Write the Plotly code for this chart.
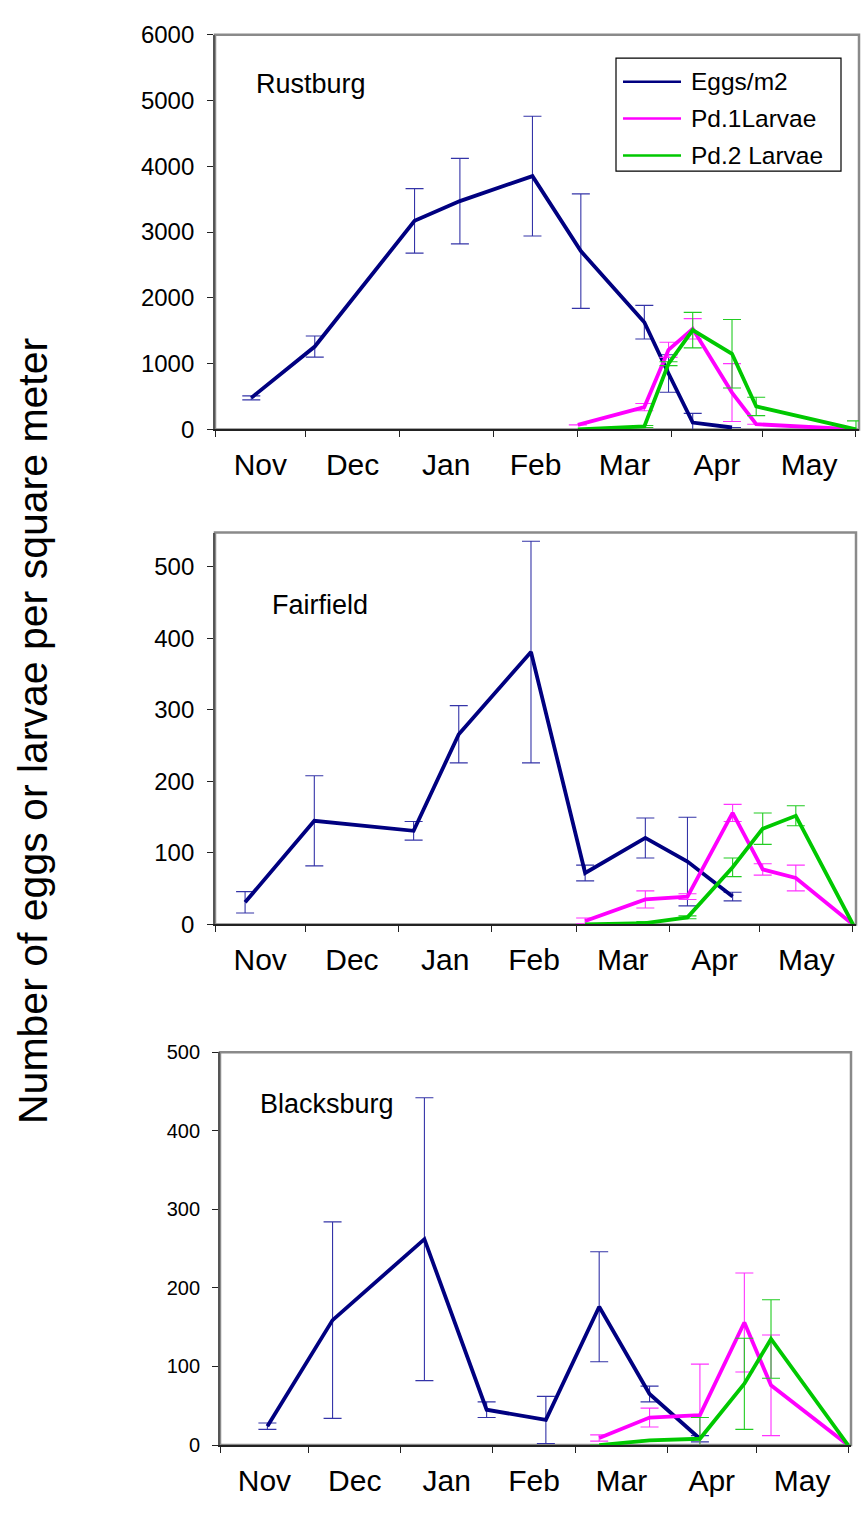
import plotly.graph_objects as go

# ---- Rustburg ----
r_egg_dates = ["2002-11-13", "2002-12-04", "2003-01-06", "2003-01-21", "2003-02-14",
               "2003-03-02", "2003-03-23", "2003-03-31", "2003-04-08", "2003-04-21"]
r_eggs = [480, 1260, 3170, 3470, 3850, 2710, 1630, 850, 105, 30]
r_eggs_err = [30, 160, 490, 650, 910, 870, 255, 285, 140, 0]

r_larva_dates = ["2003-03-01", "2003-03-23", "2003-03-31", "2003-04-08", "2003-04-21",
                 "2003-04-29", "2003-06-01"]
r_pd1 = [70, 340, 1210, 1530, 560, 80, 0]
r_pd1_err = [0, 55, 115, 155, 440, 0, 0]
r_pd2 = [0, 45, 1000, 1510, 1150, 350, 0]
r_pd2_err = [0, 15, 30, 270, 520, 140, 130]

# ---- Fairfield ----
f_egg_dates = ["2002-11-11", "2002-12-04", "2003-01-06", "2003-01-21", "2003-02-14",
               "2003-03-04", "2003-03-24", "2003-04-07", "2003-04-22"]
f_eggs = [31, 145, 131, 266, 381, 72, 121, 88, 39]
f_eggs_err = [15, 63, 13, 40, 155, 11, 28, 62, 6]

f_larva_dates = ["2003-03-04", "2003-03-24", "2003-04-07", "2003-04-22", "2003-05-02",
                 "2003-05-13", "2003-06-01"]
f_pd1 = [5, 35, 39, 156, 77, 65, 0]
f_pd1_err = [4, 12, 4, 12, 8, 18, 0]
f_pd2 = [0, 2, 10, 80, 134, 152, 0]
f_pd2_err = [0, 2, 2, 13, 22, 14, 0]

# ---- Blacksburg ----
b_egg_dates = ["2002-11-17", "2002-12-09", "2003-01-09", "2003-01-30", "2003-02-19",
               "2003-03-09", "2003-03-26", "2003-04-12"]
b_eggs = [24, 159, 262, 45, 32, 176, 65, 8]
b_eggs_err = [4, 125, 180, 10, 30, 70, 10, 4]

b_larva_dates = ["2003-03-09", "2003-03-26", "2003-04-12", "2003-04-27", "2003-05-06",
                 "2003-06-01"]
b_pd1 = [9, 35, 38, 156, 76, 0]
b_pd1_err = [4, 12, 65, 63, 64, 0]
b_pd2 = [0, 6, 8, 78, 135, 0]
b_pd2_err = [0, 0, 27, 58, 50, 0]

sites = ["Rustburg", "Fairfield", "Blacksburg"]
series_names = ["Eggs/m2", "Pd.1Larvae", "Pd.2 Larvae"]
month_range = ["2002-11-01", "2003-06-02"]

W, H = 861, 1516
FONT = "Liberation Sans, Arial, sans-serif"
NAVY, MAGENTA, GREEN = "#000080", "#ff00ff", "#00c800"
ERR_COLORS = ["#3434a8", "#ff33ff", "#22cc22"]

# pixel boxes for each panel: (left, right, top, bottom)
boxes = [(215, 859, 21, 423), (215, 856, 528, 927), (220, 851, 1057, 1457)]
y_ranges = [[0, 6000], [0, 548], [0, 500]]
y_dticks = [1000, 100, 100]
y_font = [24, 24, 20]
label_pos = [(254, 71), (270, 602), (258, 1110)]

panels = [
    (r_egg_dates, r_eggs, r_eggs_err, r_larva_dates, r_pd1, r_pd1_err, r_pd2, r_pd2_err),
    (f_egg_dates, f_eggs, f_eggs_err, f_larva_dates, f_pd1, f_pd1_err, f_pd2, f_pd2_err),
    (b_egg_dates, b_eggs, b_eggs_err, b_larva_dates, b_pd1, b_pd1_err, b_pd2, b_pd2_err),
]

fig = go.Figure()
shapes = []
annotations = []
layout = {}

for i, (ed, ev, ee, ld, p1, p1e, p2, p2e) in enumerate(panels):
    n = "" if i == 0 else str(i + 1)
    xa, ya = "x" + n, "y" + n
    left, right, top, bottom = boxes[i]
    traces = [(ed, ev, ee, NAVY, ERR_COLORS[0], series_names[0]),
              (ld, p1, p1e, MAGENTA, ERR_COLORS[1], series_names[1]),
              (ld, p2, p2e, GREEN, ERR_COLORS[2], series_names[2])]
    for dates, vals, errs, col, ecol, name in traces:
        fig.add_trace(go.Scatter(
            x=dates, y=vals, mode="lines", name=name, showlegend=False,
            line=dict(color=col, width=3.8),
            error_y=dict(type="data", array=errs, visible=True, color=ecol,
                         thickness=1.1, width=9),
            xaxis=xa, yaxis=ya, cliponaxis=False))

    layout["xaxis" + n] = dict(
        domain=[left / W, right / W], anchor=ya, type="date", range=month_range,
        dtick="M1", tick0="2002-11-01", tickformat="%b", ticklabelmode="period",
        ticks="outside", ticklen=6, tickcolor="#222", tickwidth=1.2,
        showline=True, linecolor="#222", linewidth=1.8, showgrid=False, zeroline=False,
        tickfont=dict(family=FONT, size=30, color="black"), ticklabelstandoff=2)
    layout["yaxis" + n] = dict(
        domain=[1 - bottom / H, 1 - top / H], anchor=xa, range=y_ranges[i],
        dtick=y_dticks[i], ticks="outside", ticklen=6, tickcolor="#222", tickwidth=1.2,
        showline=True, linecolor="#555", linewidth=1.8, showgrid=False, zeroline=False,
        tickfont=dict(family=FONT, size=y_font[i], color="black"), ticklabelstandoff=8)

    # grey plot frame
    shapes.append(dict(type="rect", xref=xa + " domain", yref=ya + " domain",
                       x0=0, x1=1, y0=0, y1=1, line=dict(color="#8a8a8a", width=2.5),
                       layer="below"))
    lx, ly = label_pos[i]
    annotations.append(dict(text=sites[i], xref="paper", yref="paper",
                            x=lx / W, y=1 - ly / H, xanchor="left", yanchor="middle",
                            showarrow=False, font=dict(family=FONT, size=27, color="black")))

# legend box drawn in the first panel
leg_l, leg_r, leg_t, leg_b = 616, 841, 45, 160
shapes.append(dict(type="rect", xref="paper", yref="paper",
                   x0=leg_l / W, x1=leg_r / W, y0=1 - leg_b / H, y1=1 - leg_t / H,
                   line=dict(color="black", width=1.2), fillcolor="white", layer="above"))
for k, (col, name) in enumerate(zip([NAVY, MAGENTA, GREEN], series_names)):
    yy = 1 - (69 + 37.5 * k) / H
    shapes.append(dict(type="line", xref="paper", yref="paper",
                       x0=623 / W, x1=681 / W, y0=yy, y1=yy,
                       line=dict(color=col, width=2.5), layer="above"))
    annotations.append(dict(text=name, xref="paper", yref="paper", x=689 / W, y=yy,
                            xanchor="left", yanchor="middle", showarrow=False,
                            font=dict(family=FONT, size=24.5, color="black")))

annotations.append(dict(text="Number of eggs or larvae per square meter",
                        xref="paper", yref="paper", x=33 / W, y=1 - 730 / H,
                        xanchor="center", yanchor="middle", textangle=-90,
                        showarrow=False, font=dict(family=FONT, size=41, color="black")))

fig.update_layout(
    width=W, height=H, margin=dict(l=0, r=0, t=0, b=0),
    paper_bgcolor="white", plot_bgcolor="white", showlegend=False,
    shapes=shapes, annotations=annotations, **layout)

fig.write_html("out.html")
